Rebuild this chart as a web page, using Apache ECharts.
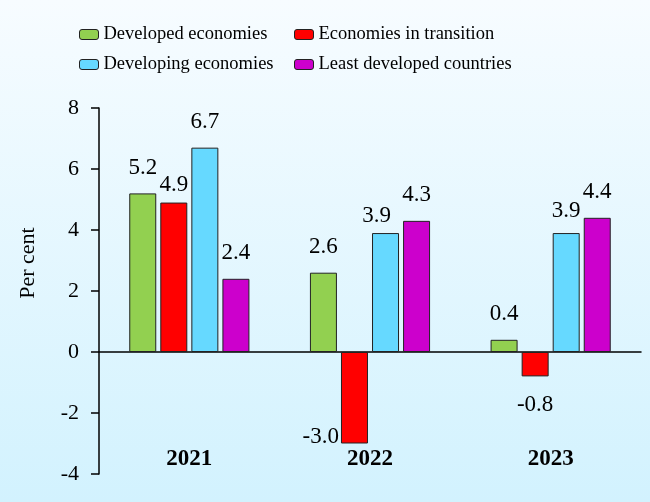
<!DOCTYPE html>
<html>
<head>
<meta charset="utf-8">
<script src="https://cdn.jsdelivr.net/npm/echarts@6/dist/echarts.min.js"></script>
<style>
  html, body { margin: 0; padding: 0; }
  #main { width: 650px; height: 502px; }
</style>
</head>
<body>
<div id="main"></div>
<script>
// chart data
var years = ['2021', '2022', '2023'];
var seriesNames = ['Developed economies', 'Economies in transition', 'Developing economies', 'Least developed countries'];
var developed = [5.2, 2.6, 0.4];
var transition = [4.9, -3.0, -0.8];
var developing = [6.7, 3.9, 3.9];
var leastDeveloped = [2.4, 4.3, 4.4];
var yTicks = { min: -4, max: 8, step: 2 };

var seriesValues = [developed, transition, developing, leastDeveloped];
var colors = ['#92D050', '#FF0000', '#66D9FF', '#CC00CC'];
var serif = '"Liberation Serif", "Times New Roman", serif';

// label tweaks so the numbers sit like in the original: [series][year]
var labelTweaks = {
  '1-0': { distance: 6 },
  '2-1': { distance: 6, offset: [-9, 0] },
  '2-2': { distance: 11 },
  '1-1': { position: 'left', distance: 2, offset: [0, 39] },
  '1-2': { distance: 17 }
};

var chart = echarts.init(document.getElementById('main'));

var series = [];
for (var i = 0; i < seriesValues.length; i++) {
  var data = [];
  for (var j = 0; j < seriesValues[i].length; j++) {
    var item = { value: seriesValues[i][j] };
    var tw = labelTweaks[i + '-' + j];
    if (tw) item.label = tw;
    data.push(item);
  }
  series.push({
    type: 'bar',
    name: seriesNames[i],
    data: data,
    barWidth: 27,
    barGap: '15%',
    itemStyle: { color: colors[i], borderColor: '#222', borderWidth: 1 },
    label: {
      show: true,
      position: 'outside',
      distance: 14,
      color: '#000',
      fontSize: 23,
      fontFamily: serif,
      formatter: function (p) { return p.value.toFixed(1); }
    }
  });
}

var legendText = { fontSize: 18.5, fontFamily: serif, color: '#000' };

var option = {
  backgroundColor: new echarts.graphic.LinearGradient(0, 0, 0, 1, [
    { offset: 0, color: '#F7FCFF' },
    { offset: 1, color: '#D2F2FE' }
  ]),
  animation: false,
  legend: [
    {
      data: [seriesNames[0], seriesNames[2]],
      orient: 'vertical',
      left: 74, top: 20,
      itemWidth: 19, itemHeight: 10, itemGap: 11,
      textStyle: legendText,
      itemStyle: { borderColor: '#222', borderWidth: 1 }
    },
    {
      data: [seriesNames[1], seriesNames[3]],
      orient: 'vertical',
      left: 289, top: 20,
      itemWidth: 19, itemHeight: 10, itemGap: 11,
      textStyle: legendText,
      itemStyle: { borderColor: '#222', borderWidth: 1 }
    }
  ],
  grid: { left: 99, right: 9, top: 108, bottom: 28, containLabel: false, outerBoundsMode: 'none' },
  xAxis: [
    {
      // axis line through zero, no labels
      type: 'category',
      data: years,
      axisLine: { onZero: true, lineStyle: { color: '#000', width: 1.5 } },
      axisTick: { show: false },
      axisLabel: { show: false }
    },
    {
      // year labels near the bottom
      type: 'category',
      data: years,
      position: 'bottom',
      offset: -26,
      axisLine: { show: false, onZero: false },
      axisTick: { show: false },
      axisLabel: { margin: 0, fontSize: 23, fontWeight: 'bold', fontFamily: serif, color: '#000' }
    }
  ],
  yAxis: {
    type: 'value',
    min: yTicks.min, max: yTicks.max, interval: yTicks.step,
    name: 'Per cent',
    nameLocation: 'middle',
    nameGap: 60,
    nameTextStyle: { fontSize: 22, fontFamily: serif, color: '#000', padding: [0, 0, 0, 56] },
    axisLine: { show: true, lineStyle: { color: '#000', width: 1.5 } },
    axisTick: { show: true, length: 8, lineStyle: { color: '#000', width: 1.5 } },
    axisLabel: { margin: 20, fontSize: 22, fontFamily: serif, color: '#000' },
    splitLine: { show: false }
  },
  series: series
};

chart.setOption(option);
</script>
</body>
</html>
